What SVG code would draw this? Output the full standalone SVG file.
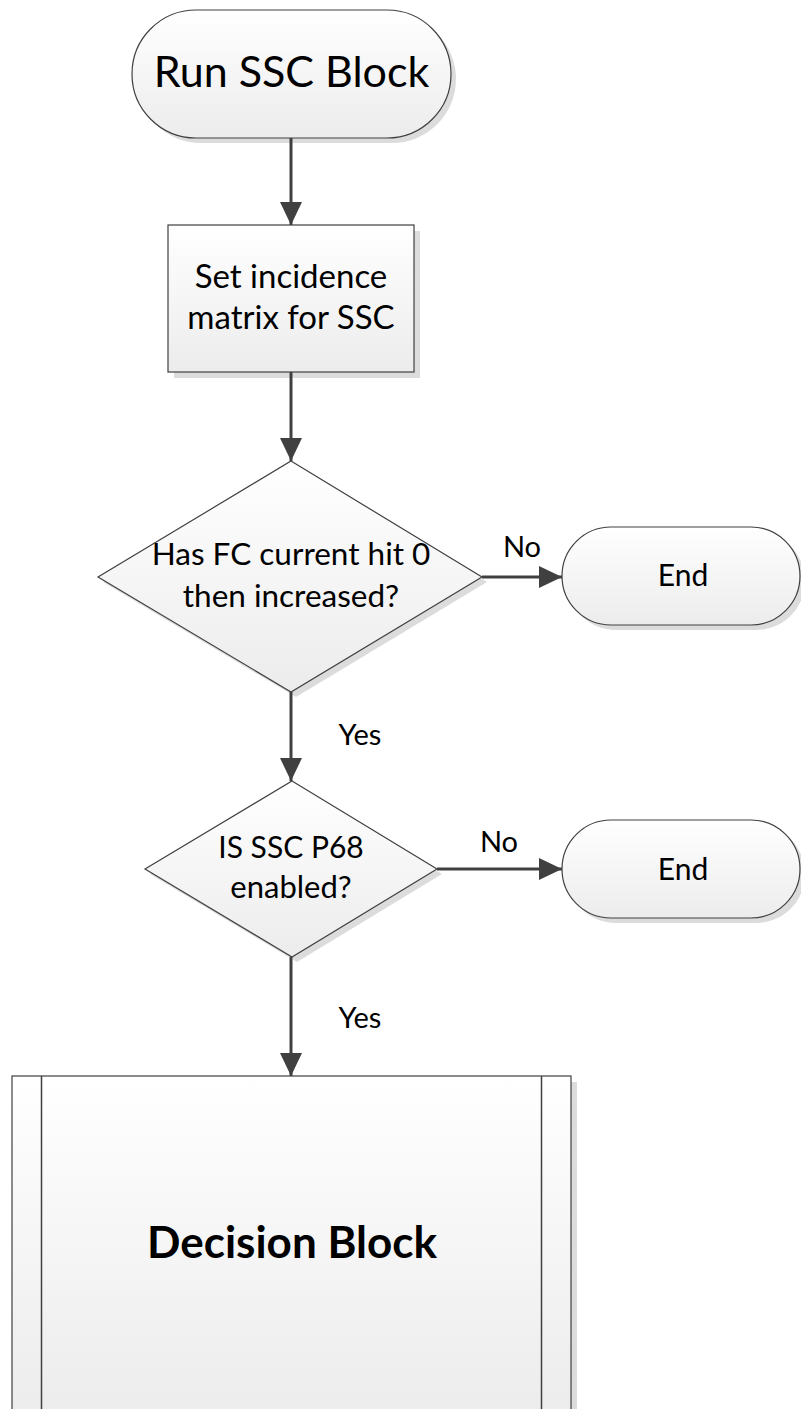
<svg xmlns="http://www.w3.org/2000/svg" width="801" height="1409" viewBox="0 0 801 1409">
  <style>
    .shape { fill: url(#fillGrad); stroke: #404040; stroke-width: 1.2; }
    .shadow { fill: #dcdcdc; stroke: none; }
    .inner { fill: none; stroke: #404040; stroke-width: 1.5; }
    .conn { fill: none; stroke: #404040; stroke-width: 3; }
    .label { font-family: Lato, "Liberation Sans", sans-serif; fill: #000; text-anchor: middle; }
  </style>
  <defs>
    <linearGradient id="fillGrad" x1="0" y1="0" x2="0" y2="1">
      <stop offset="0" stop-color="#ffffff"/>
      <stop offset="1" stop-color="#ececec"/>
    </linearGradient>
    <marker id="arrow" markerUnits="userSpaceOnUse" markerWidth="24" markerHeight="22" refX="23" refY="11" orient="auto">
      <path d="M0,0 L23,11 L0,22 Z" fill="#404040"/>
    </marker>
  </defs>
  <rect width="801" height="1409" fill="#ffffff"/>

  <!-- start terminal -->
  <g id="start">
    <rect class="shadow" x="137" y="15" width="319" height="128" rx="64"/>
    <rect class="shape" x="132" y="10" width="319" height="128" rx="64"/>
    <text class="label" x="291.5" y="87" font-size="43">Run SSC Block</text>
  </g>

  <!-- process box -->
  <g id="set-matrix">
    <rect class="shadow" x="174" y="231" width="246" height="147"/>
    <rect class="shape" x="168" y="225" width="246" height="147"/>
    <text class="label" x="291" y="288" font-size="33">Set incidence</text>
    <text class="label" x="291" y="329" font-size="33">matrix for SSC</text>
  </g>

  <!-- first decision -->
  <g id="fc-current">
    <polygon class="shadow" points="296,466 487,582 296,697 103,582"/>
    <polygon class="shape" points="291,461 482,577 291,692 98,577"/>
    <text class="label" x="291" y="565" font-size="31.5">Has FC current hit 0</text>
    <text class="label" x="291" y="607" font-size="31.5">then increased?</text>
  </g>

  <g id="end-1">
    <rect class="shadow" x="567" y="532" width="238" height="98" rx="49"/>
    <rect class="shape" x="562" y="527" width="238" height="98" rx="49"/>
    <text class="label" x="683" y="586" font-size="30">End</text>
  </g>

  <!-- second decision -->
  <g id="p68-enabled">
    <polygon class="shadow" points="297,786 442,874 297,962 150,874"/>
    <polygon class="shape" points="292,781 437,869 292,957 145,869"/>
    <text class="label" x="291" y="858" font-size="30">IS SSC P68</text>
    <text class="label" x="291" y="898" font-size="31">enabled?</text>
  </g>

  <g id="end-2">
    <rect class="shadow" x="567" y="825" width="238" height="98" rx="49"/>
    <rect class="shape" x="562" y="820" width="238" height="98" rx="49"/>
    <text class="label" x="683" y="880" font-size="30">End</text>
  </g>

  <!-- predefined process -->
  <g id="decision-block">
    <rect class="shadow" x="18" y="1082" width="559" height="340"/>
    <rect class="shape" x="12" y="1076" width="559" height="340"/>
    <line class="inner" x1="41.5" y1="1076" x2="41.5" y2="1416"/>
    <line class="inner" x1="541.5" y1="1076" x2="541.5" y2="1416"/>
    <text class="label" x="292" y="1258" font-size="44" font-weight="bold">Decision Block</text>
  </g>

  <!-- connectors -->
  <g id="connectors">
    <line class="conn" x1="291" y1="138" x2="291" y2="225" marker-end="url(#arrow)"/>
    <line class="conn" x1="291" y1="372" x2="291" y2="461" marker-end="url(#arrow)"/>
    <line class="conn" x1="482" y1="577" x2="562" y2="577" marker-end="url(#arrow)"/>
    <line class="conn" x1="291" y1="692" x2="291" y2="781" marker-end="url(#arrow)"/>
    <line class="conn" x1="437" y1="869" x2="562" y2="869" marker-end="url(#arrow)"/>
    <line class="conn" x1="291" y1="957" x2="291" y2="1076" marker-end="url(#arrow)"/>
    <text class="label" x="522" y="557" font-size="29">No</text>
    <text class="label" x="499" y="852" font-size="29">No</text>
    <text class="label" x="360" y="745" font-size="29">Yes</text>
    <text class="label" x="360" y="1028" font-size="29">Yes</text>
  </g>
</svg>
